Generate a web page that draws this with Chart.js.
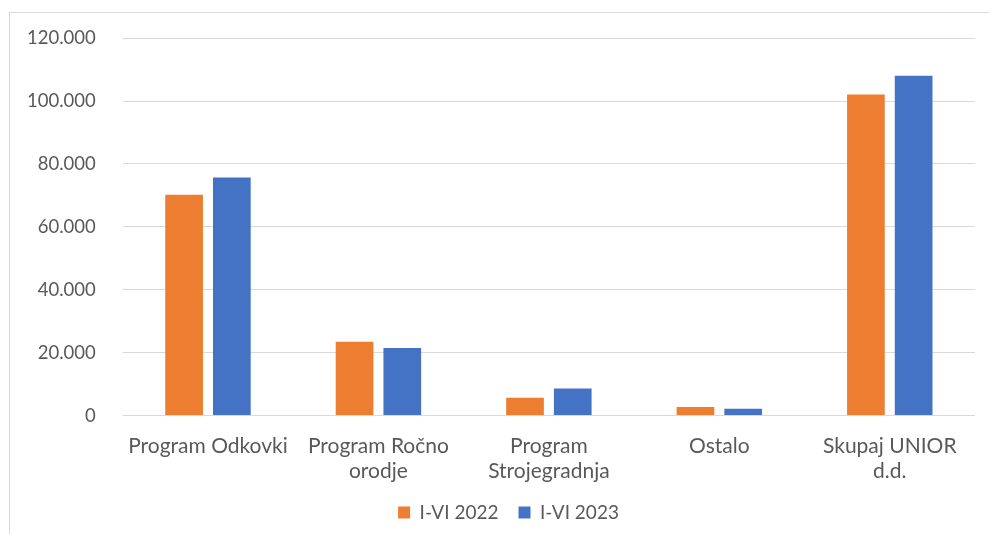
<!DOCTYPE html>
<html>
<head>
<meta charset="utf-8">
<script src="https://cdn.jsdelivr.net/npm/chart.js@4"></script>
<style>
  html, body { margin: 0; padding: 0; background: #fff; }
  #wrap { position: relative; width: 989px; height: 534px; overflow: hidden; }
  #frame { position: absolute; left: 9px; top: 12px; width: 1000px; height: 600px; border: 1px solid #d9d9d9; box-sizing: border-box; }
  canvas { position: absolute; left: 0; top: 0; }
</style>
</head>
<body>
<div id="wrap">
  <div id="frame"></div>
  <canvas id="chart" width="989" height="534"></canvas>
</div>
<script>
const categories = [
  "Program Odkovki",
  ["Program Ročno", "orodje"],
  ["Program", "Strojegradnja"],
  "Ostalo",
  ["Skupaj UNIOR", "d.d."],
];
const series2022 = [70200, 23500, 5700, 2700, 102100];
const series2023 = [75700, 21500, 8600, 2200, 108000];
const yTicks = [0, 20000, 40000, 60000, 80000, 100000, 120000];

const fmt = (v) => String(v).replace(/\B(?=(\d{3})+(?!\d))/g, ".");
const fontFamily = "Lato, 'Open Sans', sans-serif";
const textColor = "#595959";

// legend in the original sits a bit right of the canvas centre
const legendShift = {
  id: "legendShift",
  afterLayout(chart) {
    if (chart.legend) chart.legend.left += 42;
  },
};

new Chart(document.getElementById("chart").getContext("2d"), {
  type: "bar",
  data: {
    labels: categories,
    datasets: [
      {
        label: "I-VI 2022",
        data: series2022,
        backgroundColor: "#ED7D31",
        categoryPercentage: 0.56,
        barPercentage: 0.79,
      },
      {
        label: "I-VI 2023",
        data: series2023,
        backgroundColor: "#4472C4",
        categoryPercentage: 0.56,
        barPercentage: 0.79,
      },
    ],
  },
  plugins: [legendShift],
  options: {
    responsive: false,
    animation: false,
    layout: { padding: { left: 0, right: 14, top: 27, bottom: 2 } },
    plugins: {
      tooltip: { enabled: false },
      legend: {
        position: "bottom",
        labels: {
          color: textColor,
          font: { family: fontFamily, size: 19 },
          boxWidth: 12,
          boxHeight: 12,
          padding: 20,
        },
      },
    },
    scales: {
      x: {
        grid: { display: false, drawTicks: false },
        border: { display: false },
        afterFit: (axis) => {
          // tighten the gap between category labels and legend
          axis.height -= 19;
        },
        ticks: {
          color: textColor,
          font: { family: fontFamily, size: 21 },
          maxRotation: 0,
          autoSkip: false,
          padding: 18,
        },
      },
      y: {
        min: 0,
        max: 120000,
        afterBuildTicks: (axis) => {
          axis.ticks = yTicks.map((v) => ({ value: v }));
        },
        grid: { color: "#d9d9d9", lineWidth: 1, drawTicks: false },
        border: { display: false },
        ticks: {
          color: textColor,
          font: { family: fontFamily, size: 18.5 },
          padding: 27,
          callback: (v) => fmt(v),
        },
      },
    },
  },
});
</script>
</body>
</html>
